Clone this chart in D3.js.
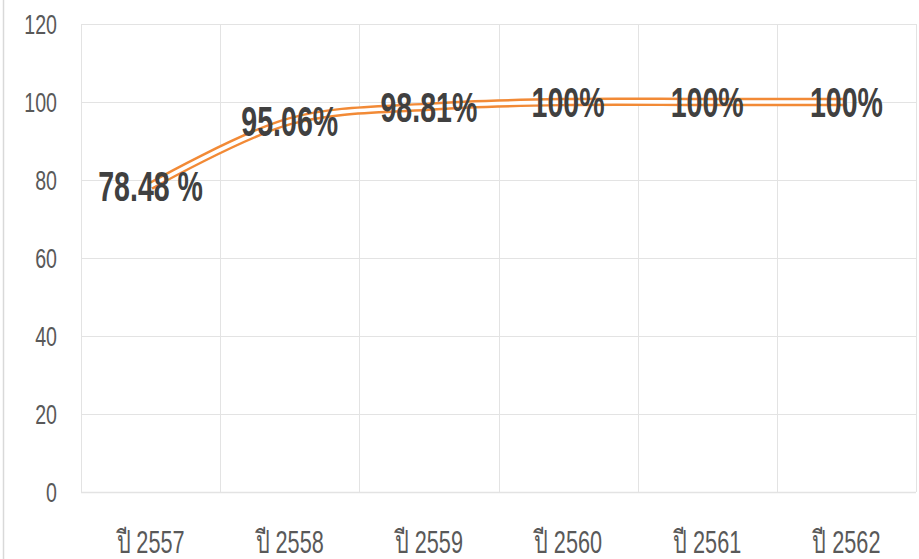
<!DOCTYPE html>
<html>
<head>
<meta charset="utf-8">
<script src="https://cdn.jsdelivr.net/npm/d3@7"></script>
<style>
  body { margin: 0; background: #fff; }
  text { font-family: "Liberation Sans", "Noto Sans", sans-serif; }
</style>
</head>
<body>
<div id="chart"></div>
<script>
var aYears = ["ปี 2557", "ปี 2558", "ปี 2559", "ปี 2560", "ปี 2561", "ปี 2562"];
var aValues = [78.48, 95.06, 98.81, 100, 100, 100];
var aLabels = ["78.48 %", "95.06%", "98.81%", "100%", "100%", "100%"];
var aYTicks = [0, 20, 40, 60, 80, 100, 120];

var W = 919, H = 559;
var PLOT = {left: 81, right: 916, top: 24, bottom: 492};

var svg = d3.select("#chart").append("svg")
  .attr("width", W)
  .attr("height", H);

// left border of the chart frame
svg.append("line")
  .attr("x1", 3.5).attr("x2", 3.5)
  .attr("y1", 0).attr("y2", H)
  .attr("stroke", "#d9d9d9")
  .attr("stroke-width", 1.5);

var x = d3.scaleBand()
  .domain(aYears)
  .range([PLOT.left, PLOT.right]);

var y = d3.scaleLinear()
  .domain([0, 120])
  .range([PLOT.bottom, PLOT.top]);

// horizontal gridlines
svg.append("g").selectAll("line")
  .data(aYTicks)
  .enter().append("line")
  .attr("x1", PLOT.left).attr("x2", PLOT.right)
  .attr("y1", function(d) { return Math.round(y(d)) + 0.5; })
  .attr("y2", function(d) { return Math.round(y(d)) + 0.5; })
  .attr("stroke", "#e3e3e3")
  .attr("stroke-width", function(d) { return d === 0 ? 1.5 : 1; });

// vertical gridlines at band edges
var aEdges = aYears.map(function(d) { return x(d); }).concat([x.range()[1]]);
svg.append("g").selectAll("line")
  .data(aEdges)
  .enter().append("line")
  .attr("x1", function(d) { return Math.round(d) + 0.5; })
  .attr("x2", function(d) { return Math.round(d) + 0.5; })
  .attr("y1", PLOT.top).attr("y2", PLOT.bottom)
  .attr("stroke", "#e3e3e3");

// y tick labels
svg.append("g").selectAll("text")
  .data(aYTicks)
  .enter().append("text")
  .attr("transform", function(d) { return "translate(57," + y(d) + ") scale(0.7,1)"; })
  .attr("text-anchor", "end")
  .attr("dy", "0.36em")
  .attr("font-size", 28)
  .attr("fill", "#595959")
  .text(function(d) { return d; });

// x labels
svg.append("g").selectAll("text")
  .data(aYears)
  .enter().append("text")
  .attr("transform", function(d) { return "translate(" + (x(d) + x.bandwidth() / 2) + ",553) scale(0.7,1)"; })
  .attr("text-anchor", "middle")
  .attr("font-size", 31)
  .attr("fill", "#595959")
  .text(function(d) { return d; });

// the line: double stroke (orange with white core)
var aPoints = aYears.map(function(d, i) { return {year: d, val: aValues[i], label: aLabels[i]}; });
var line = d3.line()
  .x(function(d) { return x(d.year) + x.bandwidth() / 2; })
  .y(function(d) { return y(d.val); })
  .curve(d3.curveCatmullRom.alpha(0.5));

svg.append("path")
  .attr("d", line(aPoints))
  .attr("fill", "none")
  .attr("stroke", "#f28a36")
  .attr("stroke-width", 8.5);

svg.append("path")
  .attr("d", line(aPoints))
  .attr("fill", "none")
  .attr("stroke", "#ffffff")
  .attr("stroke-width", 3.6);

// data labels
svg.append("g").selectAll("text")
  .data(aPoints)
  .enter().append("text")
  .attr("transform", function(d) {
    return "translate(" + (x(d.year) + x.bandwidth() / 2) + "," + y(d.val) + ") scale(0.68,1)";
  })
  .attr("text-anchor", "middle")
  .attr("dy", "0.36em")
  .attr("font-size", 42)
  .attr("font-family", "'Open Sans', 'Liberation Sans', sans-serif")
  .attr("font-weight", 600)
  .attr("fill", "#404040")
  .text(function(d) { return d.label; });
</script>
</body>
</html>
